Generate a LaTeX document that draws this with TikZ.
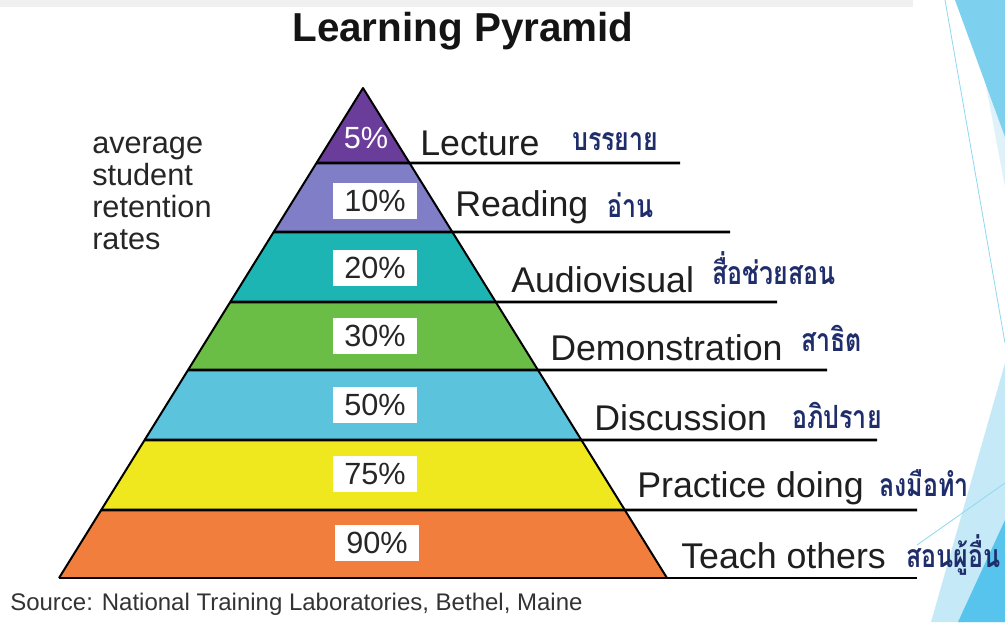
\documentclass[tikz,border=0pt]{standalone}
\usepackage{fontspec}
\setmainfont{Liberation Sans}
\newfontfamily\thaifont[Script=Thai, FakeStretch=0.78]{Loma}
\usetikzlibrary{calc}

\definecolor{lvlfive}{HTML}{6A3D9A}
\definecolor{lvlten}{HTML}{7F7EC6}
\definecolor{lvltwenty}{HTML}{1DB5B3}
\definecolor{lvlthirty}{HTML}{6BBE45}
\definecolor{lvlfifty}{HTML}{5BC3DC}
\definecolor{lvlseventy}{HTML}{F0E81E}
\definecolor{lvlninety}{HTML}{F27E3E}
\definecolor{thaiblue}{HTML}{1F2D6B}
\definecolor{facetdark}{HTML}{56C4EC}
\definecolor{facetmid}{HTML}{7DD0EE}
\definecolor{facetlight}{HTML}{C6E9F7}
\definecolor{facetpale}{HTML}{DFF2FA}
\definecolor{facetline}{HTML}{8ED8F0}

\begin{document}
\begin{tikzpicture}[
    x=0.75pt, y=-0.75pt,
    edge/.style={draw=black, line width=1.5pt, line join=round},
    rule/.style={draw=black, line width=2pt},
    pct/.style={fill=white, text=black!85, minimum width=63pt, minimum height=27pt, inner sep=0pt, font=\fontsize{23}{23}\selectfont},
    activity/.style={anchor=base west, inner sep=0pt, text=black!88, font=\fontsize{26.8}{27}\selectfont},
    thai/.style={anchor=base west, inner sep=0pt, text=thaiblue, font=\fontsize{24}{24}\selectfont\thaifont\bfseries}
]
\useasboundingbox (0,0) rectangle (1005,622);
\fill[white] (0,0) rectangle (1005,622);

% Slide decoration
\fill[black!6] (0,0) rectangle (913,7);
\fill[facetpale] (970,0) -- (1005,0) -- (1005,187) -- cycle;
\fill[facetmid] (955,0) -- (1005,0) -- (1005,137) -- cycle;
\draw[facetline, line width=0.6pt] (945,0) -- (1005,343);
\fill[facetlight] (1005,363) -- (1005,622) -- (931,622) -- cycle;
\fill[facetdark] (1005,520) -- (1005,622) -- (958,622) -- cycle;
\draw[facetline, line width=0.6pt] (1005,483) -- (917,545);

% Pyramid corners
\coordinate (apex) at (363,88);
\coordinate (bl) at (59,578);
\coordinate (br) at (667,578);

% Level boundaries
\foreach \t [count=\i] in {0.15306,0.29388,0.43673,0.57551,0.71837,0.86122} {
  \coordinate (l\i) at ($(apex)!\t!(bl)$);
  \coordinate (r\i) at ($(apex)!\t!(br)$);
}

% Levels
\fill[lvlfive] (apex) -- (l1) -- (r1) -- cycle;
\fill[lvlten] (l1) -- (l2) -- (r2) -- (r1) -- cycle;
\fill[lvltwenty] (l2) -- (l3) -- (r3) -- (r2) -- cycle;
\fill[lvlthirty] (l3) -- (l4) -- (r4) -- (r3) -- cycle;
\fill[lvlfifty] (l4) -- (l5) -- (r5) -- (r4) -- cycle;
\fill[lvlseventy] (l5) -- (l6) -- (r6) -- (r5) -- cycle;
\fill[lvlninety] (l6) -- (bl) -- (br) -- (r6) -- cycle;

% Rules
\draw[rule] (l1) -- (680,163);
\draw[rule] (l2) -- (730,232);
\draw[rule] (l3) -- (777,302);
\draw[rule] (l4) -- (827,370);
\draw[rule] (l5) -- (877,440);
\draw[rule] (l6) -- (917,510);
\draw[rule] (bl) -- (917,578);
\draw[edge] (bl) -- (apex) -- (br);

% Title
\node[anchor=base, inner sep=0pt, text=black!92, font=\bfseries\fontsize{30.3}{31}\selectfont] (title) at (463,41) {Learning Pyramid};

% Side note
\node[anchor=north west, align=left, inner sep=0pt, text=black!85, font=\fontsize{23}{24}\selectfont] (avg) at (92,137) {average\\student\\retention\\rates};

% Retention rates
\node[inner sep=0pt, text=white, font=\fontsize{23}{23}\selectfont] (p5) at (366,138) {5\%};
\node[pct] (p10) at (375,201) {10\%};
\node[pct] (p20) at (375,268) {20\%};
\node[pct] (p30) at (375,336) {30\%};
\node[pct] (p50) at (375,405) {50\%};
\node[pct] (p75) at (375,474) {75\%};
\node[pct] (p90) at (377,543) {90\%};

% Activities
\node[activity] (lecture) at (420,155) {Lecture};
\node[activity] (reading) at (455,216) {Reading};
\node[activity] (audio) at (511,292) {Audiovisual};
\node[activity] (demo) at (550,360) {Demonstration};
\node[activity] (discuss) at (594,430) {Discussion};
\node[activity] (practice) at (637,497) {Practice doing};
\node[activity] (teach) at (681,568) {Teach others};

% Thai labels
\node[thai] (th1) at (572,150) {บรรยาย};
\node[thai] (th2) at (607,217) {อ่าน};
\node[thai] (th3) at (712,284) {สื่อช่วยสอน};
\node[thai] (th4) at (801,351) {สาธิต};
\node[thai] (th5) at (792,428) {อภิปราย};
\node[thai] (th6) at (879,496) {ลงมือทำ};
\node[thai] (th7) at (906,567) {สอนผู้อื่น};

% Source
\node[anchor=base west, inner sep=0pt, text=black!80, font=\fontsize{18}{18}\selectfont] (source) at (10,610) {Source: National Training Laboratories, Bethel, Maine};

\end{tikzpicture}
\end{document}
